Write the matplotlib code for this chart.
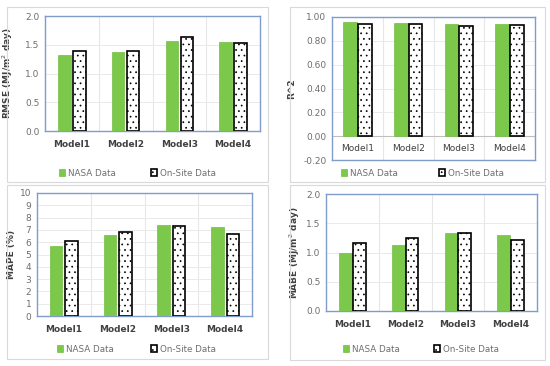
import numpy as np
import matplotlib
matplotlib.use("Agg")
import matplotlib.pyplot as plt
from matplotlib.patches import Rectangle

models = ['Model1', 'Model2', 'Model3', 'Model4']

rmse_nasa = [1.33, 1.37, 1.56, 1.54]
rmse_site = [1.39, 1.40, 1.64, 1.53]
r2_nasa = [0.96, 0.95, 0.94, 0.94]
r2_site = [0.945, 0.945, 0.925, 0.935]
mape_nasa = [5.7, 6.6, 7.4, 7.25]
mape_site = [6.1, 6.85, 7.3, 6.7]
mabe_nasa = [1.0, 1.13, 1.33, 1.30]
mabe_site = [1.17, 1.24, 1.34, 1.21]

green = '#7CC84B'
frame_blue = '#7F9CCB'
txt = '#6E6E6E'
plt.rcParams['hatch.linewidth'] = 0.5

W, H = 550, 366
fig = plt.figure(figsize=(5.5, 3.66), dpi=100)

def px(x0, y0, x1, y1):
    return [x0 / W, 1 - y1 / H, (x1 - x0) / W, (y1 - y0) / H]

# chart-area frames
for (x0, y0, x1, y1) in [(7, 7, 268, 182), (290, 7, 545, 182),
                         (7, 185, 268, 359), (290, 185, 545, 360)]:
    fig.patches.append(Rectangle((x0 / W, 1 - y1 / H), (x1 - x0) / W, (y1 - y0) / H,
                                 transform=fig.transFigure, fill=False,
                                 edgecolor='#D9D9D9', lw=0.8))

def panel(box, nasa, site, ylim, yticks, fmt, ylabel, lab_x, bw, off,
          leg_y, leg_x1, leg_x2, inside=False):
    ax = fig.add_axes(px(*box))
    x = np.arange(len(models))
    b1 = ax.bar(x - off, nasa, bw, color=green, edgecolor='#72BF42', lw=0.5,
                label='NASA Data', zorder=3)
    b2 = ax.bar(x + off, site, bw, color='white', edgecolor='black', lw=1.2,
                hatch='...', label='On-Site Data', zorder=3)
    ax.set_xlim(-0.5, 3.5)
    ax.set_ylim(*ylim)
    ax.set_yticks(yticks)
    ax.set_yticklabels([fmt.format(v) for v in yticks], fontsize=6.5, color=txt)
    for sp in ax.spines.values():
        sp.set_color(frame_blue)
        sp.set_linewidth(1.0)
    ax.tick_params(axis='y', length=0, pad=4)
    ax.set_xticks([])
    for b in [0.5, 1.5, 2.5]:
        ax.axvline(b, color='#E6E6E6', lw=0.8, zorder=0)
    for v in yticks:
        ax.axhline(v, color='#EAEAEA', lw=0.7, zorder=0)
    if inside:
        ax.axhline(0, color='#BFBFBF', lw=0.8, zorder=1)
        for i, m in enumerate(models):
            ax.text(i, -0.1, m, ha='center', va='center', fontsize=6.5, color='#404040')
    else:
        for i, m in enumerate(models):
            ax.annotate(m, (i, 0), xycoords=('data', 'axes fraction'),
                        xytext=(0, -10), textcoords='offset points',
                        ha='center', va='center', fontsize=6.5,
                        fontweight='bold', color='#404040')
    ax.set_ylabel(ylabel, fontsize=6.5, fontweight='bold', color='#404040')
    ax.yaxis.set_label_coords((lab_x - box[0]) / (box[2] - box[0]), 0.5)
    kw = dict(loc='center left', bbox_transform=fig.transFigure, frameon=False,
              fontsize=6.3, handlelength=0.7, handleheight=0.7, borderpad=0,
              borderaxespad=0, handletextpad=0.3, labelcolor=txt)
    lg1 = ax.legend(handles=[b1], bbox_to_anchor=(leg_x1 / W, 1 - leg_y / H), **kw)
    ax.add_artist(lg1)
    ax.legend(handles=[b2], bbox_to_anchor=(leg_x2 / W, 1 - leg_y / H), **kw)
    return ax

panel((45, 16, 260, 131), rmse_nasa, rmse_site, (0, 2.0),
      [0.0, 0.5, 1.0, 1.5, 2.0], '{:.1f}', 'RMSE (MJ/m$^2$ day)', 15,
      0.23, 0.14, 173, 59, 151)
panel((332, 17, 535, 160), r2_nasa, r2_site, (-0.2, 1.0),
      [-0.2, 0.0, 0.2, 0.4, 0.6, 0.8, 1.0], '{:.2f}', 'R^2', 296,
      0.27, 0.145, 173, 341, 439, inside=True)
panel((37, 193, 252, 316), mape_nasa, mape_site, (0, 10),
      list(range(0, 11)), '{:d}', 'MAPE (%)', 16,
      0.23, 0.145, 349, 57, 151)
panel((326, 194, 537, 311), mabe_nasa, mabe_site, (0, 2.0),
      [0.0, 0.5, 1.0, 1.5, 2.0], '{:.1f}', 'MABE (MJ/m$^2$ day)', 302,
      0.24, 0.13, 349, 343, 434)

fig.savefig('out.png', dpi=100, facecolor='white')
